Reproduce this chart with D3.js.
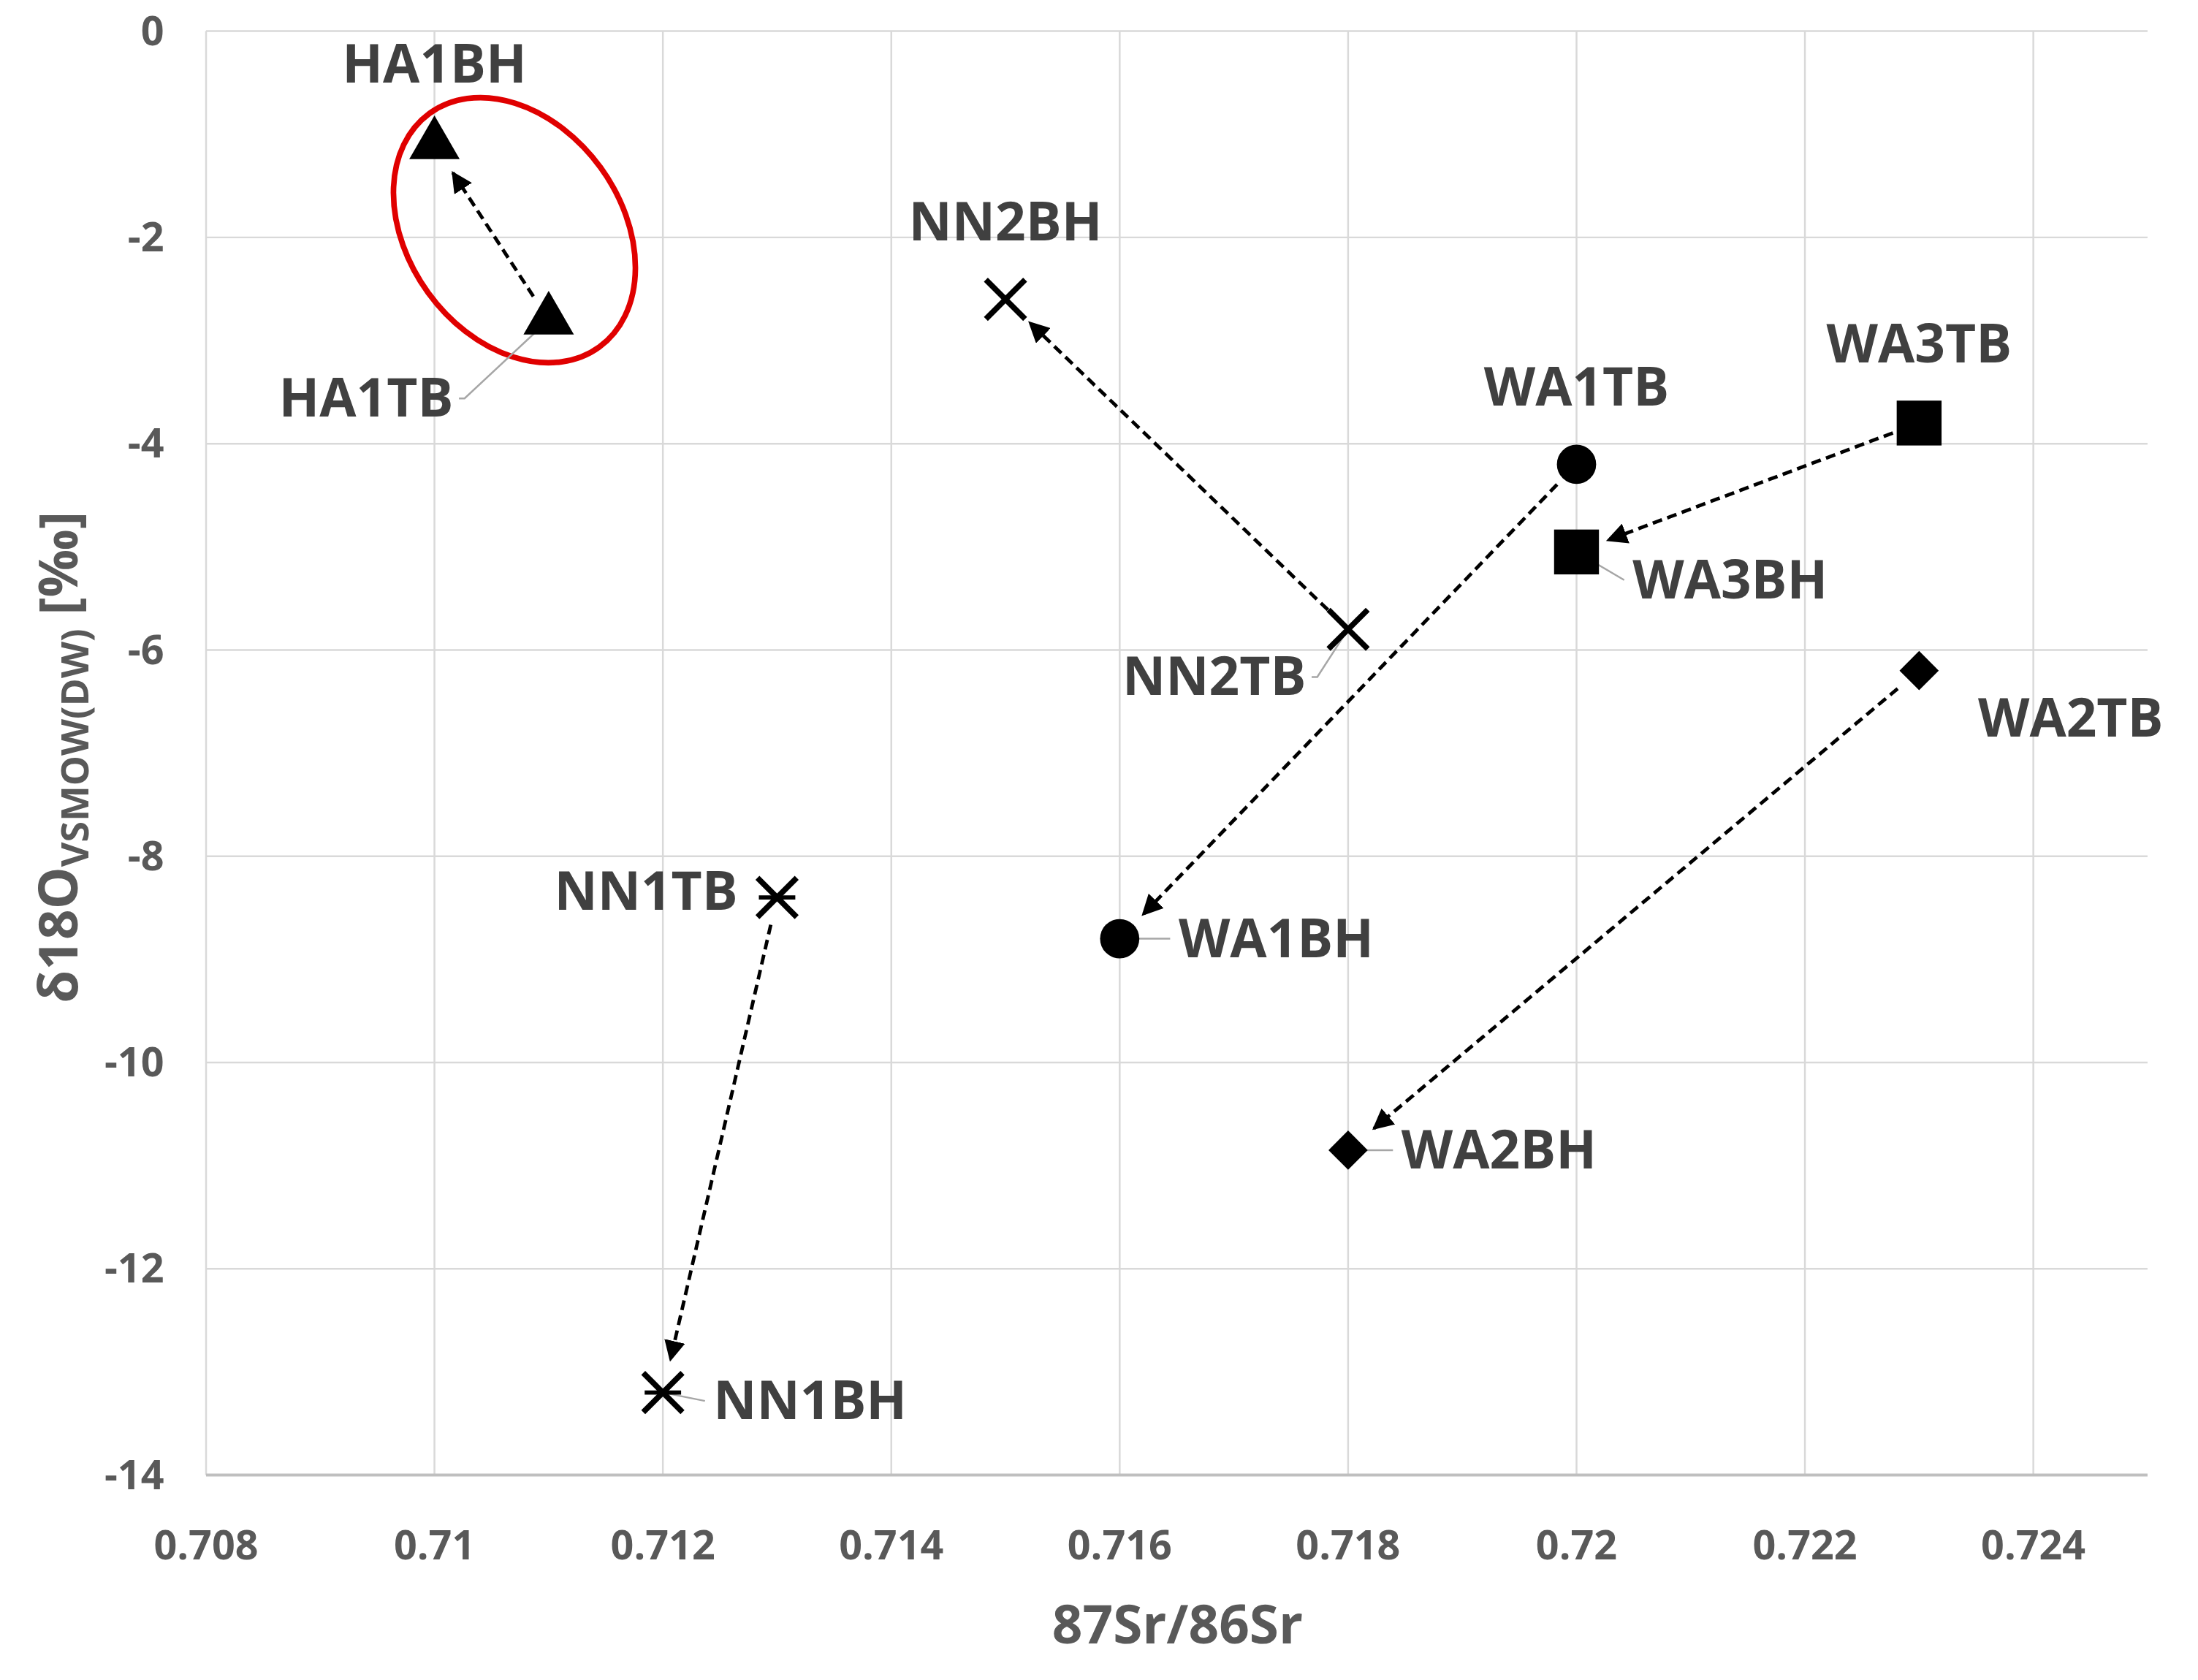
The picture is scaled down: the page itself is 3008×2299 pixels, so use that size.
<!DOCTYPE html>
<html><head><meta charset="utf-8">
<script src="https://cdn.jsdelivr.net/npm/d3@7"></script>
<style>body{margin:0;background:#fff}</style>
</head><body>
<svg id="chart" width="3008" height="2299" viewBox="0 0 1568 1198"></svg>
<script>
// Data
const sites = ['HA1', 'NN2', 'WA1', 'WA3', 'WA2', 'NN1'];
const symbols = ['triangle', 'cross', 'circle', 'square', 'diamond', 'star'];
const srTB = [0.711, 0.718, 0.720, 0.723, 0.723, 0.713];
const oTB = [-2.8, -5.8, -4.2, -3.8, -6.2, -8.4];
const srBH = [0.710, 0.715, 0.716, 0.720, 0.718, 0.712];
const oBH = [-1.1, -2.6, -8.8, -5.05, -10.85, -13.2];
const xTicks = [0.708, 0.71, 0.712, 0.714, 0.716, 0.718, 0.72, 0.722, 0.724];
const yTicks = [0, -2, -4, -6, -8, -10, -12, -14];
// label offsets [dx, dy, anchor, leader]
const labTB = [[-68, 68, 'end', true], [-30, 46, 'end', true], [0, -43, 'middle', false],
  [0, -44, 'middle', false], [42, 46, 'start', false], [-28, 8, 'end', false]];
const labBH = [[0, -45, 'middle', false], [0, -43, 'middle', false], [42, 12, 'start', true],
  [40, 32, 'start', true], [38, 12, 'start', true], [36, 18, 'start', true]];

const margin = {top: 22, right: 36, bottom: 146, left: 147};
const W = 1568, H = 1198;
const svg = d3.select('#chart');
const g = svg.append('g').attr('transform', `translate(${margin.left},${margin.top})`);
const width = W - margin.left - margin.right;
const height = H - margin.top - margin.bottom;
const font = "'Liberation Sans Narrow','Open Sans',Arial,sans-serif";

const x = d3.scaleLinear().domain([0.708, 0.725]).range([0, width]);
const y = d3.scaleLinear().domain([-14, 0]).range([height, 0]);

// Grid
g.selectAll('.gx').data(xTicks).join('line')
  .attr('x1', d => x(d)).attr('x2', d => x(d)).attr('y1', 0).attr('y2', height)
  .attr('stroke', '#d9d9d9').attr('stroke-width', 1.3);
g.selectAll('.gy').data(yTicks).join('line')
  .attr('x1', 0).attr('x2', width).attr('y1', d => y(d)).attr('y2', d => y(d))
  .attr('stroke', d => d === -14 ? '#bfbfbf' : '#d9d9d9').attr('stroke-width', d => d === -14 ? 2 : 1.3);

// Tick labels
g.selectAll('.tx').data(xTicks).join('text')
  .attr('x', d => x(d)).attr('y', height + 60).attr('text-anchor', 'middle')
  .attr('font-family', font).attr('font-weight', 'bold').attr('font-size', 29).attr('fill', '#595959')
  .text(d => d3.format('')(d));
g.selectAll('.ty').data(yTicks).join('text')
  .attr('x', -30).attr('y', d => y(d) + 10).attr('text-anchor', 'end')
  .attr('font-family', font).attr('font-weight', 'bold').attr('font-size', 29).attr('fill', '#595959')
  .text(d => d);

// Axis titles
svg.append('text').attr('x', 840).attr('y', 1172).attr('text-anchor', 'middle')
  .attr('font-family', font).attr('font-weight', 'bold').attr('font-size', 38).attr('fill', '#595959')
  .text('87Sr/86Sr');
const yt = svg.append('text').attr('transform', 'translate(55,540) rotate(-90)').attr('text-anchor', 'middle')
  .attr('font-family', font).attr('font-weight', 'bold').attr('font-size', 38).attr('fill', '#595959');
yt.append('tspan').text('δ18O');
yt.append('tspan').attr('font-size', 27).attr('dy', 8).text('VSMOW(DW)');
yt.append('tspan').attr('dy', -8).text(' [‰]');

// Arrowhead
svg.append('defs').append('marker').attr('id', 'arr').attr('viewBox', '0 0 10 10')
  .attr('refX', 9).attr('refY', 5).attr('markerWidth', 6).attr('markerHeight', 6)
  .attr('orient', 'auto').append('path').attr('d', 'M0,0L10,5L0,10Z').attr('fill', '#000');

// Red ellipse around HA1
g.append('ellipse').attr('cx', x(0.7107)).attr('cy', y(-1.93)).attr('rx', 76).attr('ry', 103)
  .attr('transform', `rotate(-36,${x(0.7107)},${y(-1.93)})`)
  .attr('fill', 'none').attr('stroke', '#e00000').attr('stroke-width', 4);

// Arrows TB -> BH
sites.forEach((s, i) => {
  const x1 = x(srTB[i]), y1 = y(oTB[i]), x2 = x(srBH[i]), y2 = y(oBH[i]);
  const L = Math.hypot(x2 - x1, y2 - y1), ux = (x2 - x1) / L, uy = (y2 - y1) / L;
  g.append('line').attr('x1', x1 + ux * 20).attr('y1', y1 + uy * 20)
    .attr('x2', x2 - ux * 24).attr('y2', y2 - uy * 24)
    .attr('stroke', '#000').attr('stroke-width', 2.5).attr('stroke-dasharray', '7,4')
    .attr('marker-end', 'url(#arr)');
});

// Markers
function marker(sel, type) {
  const k = '#000';
  if (type === 'triangle') sel.append('path').attr('d', d3.symbol(d3.symbolTriangle, 560)).attr('fill', k);
  else if (type === 'circle') sel.append('circle').attr('r', 14).attr('fill', k);
  else if (type === 'square') sel.append('rect').attr('x', -16).attr('y', -16).attr('width', 32).attr('height', 32).attr('fill', k);
  else if (type === 'diamond') sel.append('path').attr('d', 'M0,-14L14,0L0,14L-14,0Z').attr('fill', k);
  else {
    sel.append('path').attr('d', 'M-14,-14L14,14M14,-14L-14,14').attr('stroke', k).attr('stroke-width', 4);
    if (type === 'star') sel.append('path').attr('d', 'M-13,0L13,0').attr('stroke', k).attr('stroke-width', 3);
  }
}
function label(px, py, o, text) {
  const tx = px + o[0], ty = py + o[1];
  if (o[3]) {
    const lx = o[2] === 'end' ? tx + 8 : tx - 6;
    g.append('path').attr('d', `M${px},${py}L${lx},${ty - 12}` + (o[2] === 'end' ? `L${lx - 4},${ty - 12}` : ''))
      .attr('fill', 'none').attr('stroke', '#a6a6a6').attr('stroke-width', 1.3);
  }
  g.append('text').attr('x', tx).attr('y', ty + 1).attr('text-anchor', o[2])
    .attr('font-family', font).attr('font-weight', 'bold').attr('font-size', 38).attr('fill', '#404040')
    .text(text);
}
sites.forEach((s, i) => {
  const pts = [[srTB[i], oTB[i], labTB[i], s + 'TB'], [srBH[i], oBH[i], labBH[i], s + 'BH']];
  pts.forEach(p => {
    const px = x(p[0]), py = y(p[1]);
    label(px, py, p[2], p[3]);
    marker(g.append('g').attr('transform', `translate(${px},${py})`), symbols[i]);
  });
});
</script>
</body></html>
